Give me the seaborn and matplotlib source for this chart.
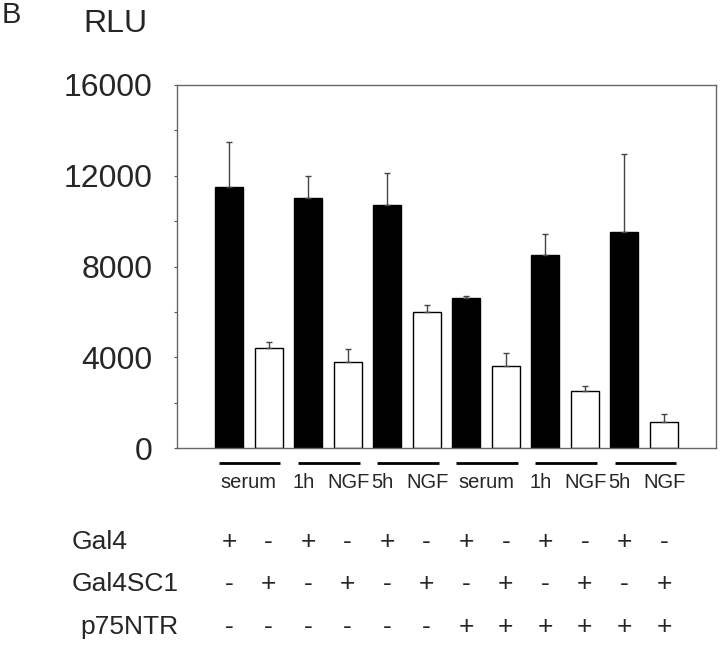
import matplotlib
matplotlib.use("Agg")
import matplotlib.pyplot as plt
import matplotlib.transforms as mtransforms
from matplotlib.ticker import MultipleLocator
import seaborn as sns
import pandas as pd
import numpy as np

# ---------------- data ----------------
bar_ids = [f"b{i}" for i in range(1, 13)]
construct = ["Gal4", "Gal4SC1"] * 6
values = [11500, 4400, 11000, 3800, 10700, 6000, 6600, 3600, 8500, 2500, 9500, 1150]
errors = [2000, 270, 1000, 570, 1400, 300, 100, 600, 950, 250, 3450, 350]
gal4_row = ["+", "-"] * 6
gal4sc1_row = ["-", "+"] * 6
p75ntr_row = ["-"] * 6 + ["+"] * 6
row_names = ["Gal4", "Gal4SC1", "p75NTR"]
treatments = ["serum", ("1h", "NGF"), ("5h", "NGF"), "serum", ("1h", "NGF"), ("5h", "NGF")]
y_ticks = [0, 4000, 8000, 12000, 16000]

df = pd.DataFrame({"bar": bar_ids, "construct": construct, "RLU": values})

# ---------------- figure ----------------
sns.set_style("white")
plt.rcParams["font.family"] = ["Liberation Sans", "DejaVu Sans"]

fig = plt.figure(figsize=(7.2, 6.45), dpi=100)
ax = fig.add_axes([177 / 720, 1 - 448 / 645, (716 - 177) / 720, (448 - 85) / 645])

sns.barplot(data=df, x="bar", y="RLU", hue="construct", order=bar_ids,
            palette={"Gal4": "black", "Gal4SC1": "white"}, dodge=False,
            width=0.71, edgecolor="black", linewidth=1.0, errorbar=None,
            legend=False, ax=ax)

xpos = np.arange(len(values))
ax.errorbar(xpos, values, yerr=[np.zeros(len(errors)), errors], fmt="none",
            ecolor="#444444", elinewidth=1.0, capsize=2, capthick=1.0, zorder=3)

ax.set_xlim(-1.315, 12.315)
ax.set_ylim(0, 16000)
ax.set_yticks(y_ticks)
ax.set_yticklabels([str(t) for t in y_ticks], fontsize=23)
ax.yaxis.set_minor_locator(MultipleLocator(2000))
ax.tick_params(axis="y", which="both", left=True, length=2.5, width=0.8,
               color="#555555", pad=15)
ax.set_xticks([])
ax.set_xlabel("")
ax.set_ylabel("")
for sp in ax.spines.values():
    sp.set_visible(True)
    sp.set_color("#666666")
    sp.set_linewidth(1.0)

# ---------------- annotations ----------------
fig.text(2 / 720, 1 - 15 / 645, "B", fontsize=21, ha="left", va="center")
fig.text(115 / 720, 1 - 24 / 645, "RLU", fontsize=23, ha="center", va="center")

trans = mtransforms.blended_transform_factory(ax.transData, fig.transFigure)
line_y = 1 - 463 / 645
lab_y = 1 - 483 / 645
for k, tr in enumerate(treatments):
    p = 2 * k
    ax.plot([p - 0.25, p + 1.3], [line_y, line_y], transform=trans, color="black",
            lw=2.0, clip_on=False, solid_capstyle="butt")
    if isinstance(tr, str):
        ax.text(p + 0.5, lab_y, tr, transform=trans, ha="center", va="center", fontsize=14.5)
    else:
        ax.text(p - 0.12, lab_y, tr[0], transform=trans, ha="center", va="center", fontsize=14.5)
        ax.text(p + 1.02, lab_y, tr[1], transform=trans, ha="center", va="center", fontsize=14.5)

row_y = [1 - 542 / 645, 1 - 584 / 645, 1 - 627 / 645]
row_x = [72 / 720, 72 / 720, 80 / 720]
rows = [gal4_row, gal4sc1_row, p75ntr_row]
for name, rx, ry, signs in zip(row_names, row_x, row_y, rows):
    fig.text(rx, ry, name, fontsize=19, ha="left", va="center")
    for i, s in enumerate(signs):
        ax.text(i, ry, s, transform=trans, ha="center", va="center", fontsize=19)

fig.savefig("out.png", dpi=100)
